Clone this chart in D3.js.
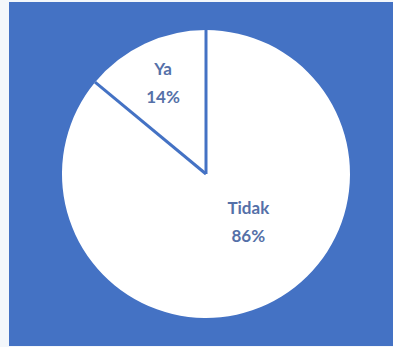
<!DOCTYPE html>
<html>
<head>
<meta charset="utf-8">
<script src="https://cdn.jsdelivr.net/npm/d3@7"></script>
<style>
  html, body { margin: 0; padding: 0; background: #f3f7fb; }
  svg { display: block; }
</style>
</head>
<body>
<svg id="pie-chart" width="393" height="347"></svg>
<script>
// Data
var categories = ["Tidak", "Ya"];
var values = [86, 14];
var percentLabels = ["86%", "14%"];

// The svg
var svg = d3.select("#pie-chart"),
    width = +svg.attr("width"),
    height = +svg.attr("height");

// blue chart area
svg.append("rect")
    .attr("x", 9)
    .attr("y", 2)
    .attr("width", width - 9)
    .attr("height", height - 3)
    .attr("fill", "#4472c4");

var cx = 206, cy = 174, radius = 144;

var g = svg.append("g")
    .attr("transform", "translate(" + cx + "," + cy + ")");

var pie = d3.pie().sort(null).value(function (d) { return d; });
var arc = d3.arc().innerRadius(0).outerRadius(radius);

var arcs = pie(values);

// slices
g.selectAll("path.slice")
    .data(arcs)
    .enter()
    .append("path")
    .attr("class", "slice")
    .attr("d", arc)
    .attr("fill", "white");

// separator lines (slice borders inside the pie)
g.selectAll("line.sep")
    .data(arcs)
    .enter()
    .append("line")
    .attr("class", "sep")
    .attr("x1", 0)
    .attr("y1", 0)
    .attr("x2", function (d) { return radius * Math.sin(d.startAngle); })
    .attr("y2", function (d) { return -radius * Math.cos(d.startAngle); })
    .attr("stroke", "#4472c4")
    .attr("stroke-width", 3);

// label placement: small slice at its centroid, big slice lower right like Excel
function labelPoint(d, i) {
    if (i === 0) {
        var a = Math.PI * 0.77;
        return [64 * Math.sin(a), -64 * Math.cos(a)];
    }
    var la = (d.startAngle + d.endAngle) / 2;
    return [101 * Math.sin(la), -101 * Math.cos(la)];
}

var labels = g.selectAll("text.lbl")
    .data(arcs)
    .enter()
    .append("text")
    .attr("class", "lbl")
    .attr("text-anchor", "middle")
    .attr("font-family", "Lato, 'Open Sans', sans-serif")
    .attr("font-weight", "bold")
    .attr("font-size", "17px")
    .attr("fill", "#5570a8")
    .attr("transform", function (d, i) {
        var p = labelPoint(d, i);
        return "translate(" + p[0] + "," + p[1] + ")";
    });

labels.append("tspan")
    .attr("x", 0)
    .attr("dy", "-0.47em")
    .text(function (d, i) { return categories[i]; });

labels.append("tspan")
    .attr("x", 0)
    .attr("dy", "1.65em")
    .text(function (d, i) { return percentLabels[i]; });
</script>
</body>
</html>
